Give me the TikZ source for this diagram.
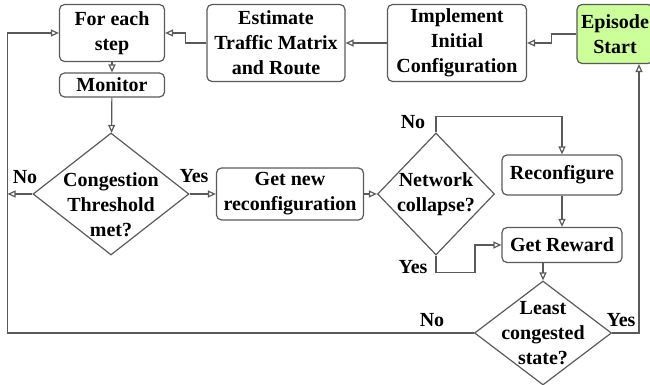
\documentclass[tikz,border=0pt]{standalone}
\usepackage{fontspec}
\setmainfont{Liberation Serif}
\usetikzlibrary{shapes.geometric, arrows.meta, positioning, calc}
\definecolor{edgegray}{HTML}{5A5A5A}
\definecolor{startgreen}{HTML}{CCFF99}
\tikzstyle{process} = [rectangle, rounded corners=2.5pt, minimum width=60pt, minimum height=20pt, inner sep=1pt, align=center, draw=edgegray, line width=0.6pt, font=\bfseries\fontsize{10pt}{12.5pt}\selectfont]
\tikzstyle{decision} = [diamond, inner sep=-10pt, align=center, draw=edgegray, line width=0.6pt, font=\bfseries\fontsize{10pt}{12.5pt}\selectfont]
\tikzstyle{answer} = [inner sep=0pt, font=\bfseries\fontsize{10pt}{12pt}\selectfont]
\tikzstyle{arrow} = [line width=0.6pt, draw=edgegray, -{Triangle[open, length=4pt, width=3.5pt]}]

\begin{document}
\begin{tikzpicture}[node distance=26pt]
    \useasboundingbox (0,0) rectangle (325pt,-192.5pt);
    \node (step) [process, minimum width=52.5pt, minimum height=28.5pt] at (56pt,-16.5pt) {For each\\step};
    \node (monitor) [process, below of=step, minimum width=52.5pt, minimum height=12pt] {Monitor};
    \node (estimate) [process, right of=step, xshift=56pt, yshift=-5pt, minimum width=69pt, minimum height=38.5pt] {Estimate\\Traffic Matrix\\and Route};
    \node (implement) [process, right of=estimate, xshift=64.5pt, minimum width=69.5pt, minimum height=38.5pt] {Implement\\Initial\\Configuration};
    \node (episode) [process, right of=implement, xshift=53pt, yshift=4.5pt, minimum width=38pt, minimum height=29.5pt, fill=startgreen] {Episode\\Start};
    \node (cong) [decision, below of=monitor, yshift=-28.5pt, xshift=-0.5pt, minimum width=78pt, minimum height=61pt] {};
    \node (congtxt) [answer, align=center, font=\bfseries\fontsize{10pt}{12.5pt}\selectfont, yshift=-5.5pt] at (cong) {Congestion\\Threshold\\met?};
    \node (getnew) [process, right of=cong, xshift=63.5pt, minimum width=73.5pt, minimum height=26pt] {Get new\\reconfiguration};
    \node (coll) [decision, right of=getnew, xshift=47pt, minimum width=58.5pt, minimum height=61pt] {Network\\collapse?};
    \node (reconf) [process, right of=coll, xshift=37pt, yshift=9.5pt, minimum width=60pt, minimum height=20pt] {Reconfigure};
    \node (reward) [process, below of=reconf, yshift=-9pt, minimum width=60pt, minimum height=17.5pt] {Get Reward};
    \node (least) [decision, below of=reward, xshift=-9.5pt, yshift=-18pt, minimum width=68.5pt, minimum height=52pt] {Least\\congested\\state?};

    \coordinate (noend) at (3.75pt,-97pt);
    \coordinate (loopcorner) at (3.75pt,-166.5pt);

    \node (noA) [answer] at (12.5pt,-88.5pt) {No};
    \node (yesA) [answer] at (97pt,-88pt) {Yes};
    \node (noB) [answer] at (206.5pt,-61pt) {No};
    \node (yesB) [answer] at (206.5pt,-133.5pt) {Yes};
    \node (noC) [answer] at (216pt,-160pt) {No};
    \node (yesC) [answer] at (310.5pt,-160pt) {Yes};

    \draw [arrow] (episode.west) -- ++(-12.5pt,0) |- (implement.east);
    \draw [arrow] (implement) -- (estimate);
    \draw [arrow] (estimate.west) -- ++(-10.5pt,0) |- (step.east);
    \draw [arrow] (step) -- (monitor);
    \draw [arrow] (monitor) -- (cong);
    \draw [arrow] (cong) -- (noend);
    \draw [arrow] (cong) -- (getnew);
    \draw [arrow] (getnew) -- (coll);
    \draw [arrow] (coll.north) -- ++(0,8pt) -| (reconf.north);
    \draw [arrow] (reconf) -- (reward);
    \draw [arrow] (coll.south) -- ++(0,-8.5pt) -- ++(19.5pt,0) |- (reward.west);
    \draw [arrow] (least.north |- reward.south) -- (least.north);
    \draw [arrow] (least.west) -- (loopcorner) |- (step.west);
    \draw [arrow] (least.east) -| ([xshift=12pt]episode.south);
\end{tikzpicture}
\end{document}
